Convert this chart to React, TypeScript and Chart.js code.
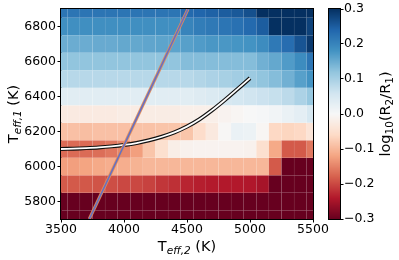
import React, { useEffect, useRef } from 'react';
import { Chart, registerables } from 'chart.js';
Chart.register(...registerables);

// Teff,2 grid (columns) and Teff,1 grid (rows)
const teff2 = [3500, 3600, 3700, 3800, 3900, 4000, 4100, 4200, 4300, 4400, 4500, 4600, 4700, 4800, 4900, 5000, 5100, 5200, 5300, 5400, 5500];
const teff1 = [5700, 5800, 5900, 6000, 6100, 6200, 6300, 6400, 6500, 6600, 6700, 6800, 6900];

// log10(R2/R1) per row (one array per Teff,1 value, columns follow teff2)
const ratio5700 = [-0.3, -0.3, -0.3, -0.3, -0.3, -0.3, -0.3, -0.3, -0.3, -0.3, -0.3, -0.3, -0.3, -0.3, -0.3, -0.3, -0.3, -0.3, -0.3, -0.3, -0.3];
const ratio5800 = [-0.3, -0.3, -0.3, -0.3, -0.3, -0.3, -0.3, -0.3, -0.3, -0.3, -0.3, -0.3, -0.3, -0.3, -0.3, -0.3, -0.3, -0.3, -0.3, -0.3, -0.3];
const ratio5900 = [-0.185, -0.185, -0.187, -0.19, -0.195, -0.2, -0.2, -0.205, -0.215, -0.22, -0.23, -0.235, -0.238, -0.24, -0.24, -0.242, -0.25, -0.3, -0.3, -0.3, -0.3];
const ratio6000 = [-0.125, -0.125, -0.12, -0.115, -0.11, -0.11, -0.105, -0.1, -0.1, -0.1, -0.1, -0.1, -0.1, -0.1, -0.1, -0.1, -0.1, -0.185, -0.3, -0.3, -0.3];
const ratio6100 = [-0.17, -0.17, -0.17, -0.168, -0.16, -0.145, -0.125, -0.085, -0.05, -0.02, -0.012, -0.01, -0.01, -0.01, -0.01, -0.012, -0.05, -0.115, -0.185, -0.185, -0.16];
const ratio6200 = [-0.09, -0.09, -0.092, -0.09, -0.09, -0.09, -0.088, -0.088, -0.086, -0.085, -0.085, -0.055, -0.03, -0.003, 0.02, 0.018, -0.005, -0.062, -0.066, -0.062, -0.04];
const ratio6300 = [-0.027, -0.027, -0.027, -0.027, -0.027, -0.024, -0.024, -0.024, -0.024, -0.024, -0.018, -0.018, -0.018, -0.01, -0.005, 0, 0.003, 0.01, 0.02, 0.03, 0.05];
const ratio6400 = [0.035, 0.035, 0.035, 0.035, 0.035, 0.035, 0.035, 0.035, 0.035, 0.035, 0.035, 0.04, 0.045, 0.05, 0.055, 0.06, 0.065, 0.07, 0.08, 0.095, 0.115];
const ratio6500 = [0.085, 0.085, 0.085, 0.085, 0.085, 0.085, 0.085, 0.085, 0.085, 0.085, 0.085, 0.09, 0.095, 0.1, 0.105, 0.11, 0.12, 0.13, 0.145, 0.165, 0.18];
const ratio6600 = [0.12, 0.12, 0.12, 0.12, 0.12, 0.12, 0.12, 0.12, 0.12, 0.12, 0.13, 0.13, 0.13, 0.13, 0.13, 0.13, 0.145, 0.155, 0.17, 0.19, 0.22];
const ratio6700 = [0.15, 0.15, 0.15, 0.152, 0.152, 0.155, 0.155, 0.158, 0.16, 0.16, 0.165, 0.17, 0.175, 0.175, 0.178, 0.18, 0.19, 0.215, 0.23, 0.26, 0.29];
const ratio6800 = [0.185, 0.185, 0.185, 0.185, 0.185, 0.185, 0.185, 0.185, 0.185, 0.185, 0.2, 0.21, 0.215, 0.22, 0.225, 0.235, 0.25, 0.3, 0.3, 0.3, 0.28];
const ratio6900 = [0.22, 0.22, 0.22, 0.22, 0.22, 0.22, 0.22, 0.22, 0.22, 0.22, 0.235, 0.24, 0.245, 0.25, 0.255, 0.265, 0.3, 0.3, 0.3, 0.3, 0.3];
const ratioRows = [ratio5700, ratio5800, ratio5900, ratio6000, ratio6100, ratio6200, ratio6300, ratio6400, ratio6500, ratio6600, ratio6700, ratio6800, ratio6900];

// Straight relation line
const lineTeff2 = [3725, 4508];
const lineTeff1 = [5700, 6900];

// Curved track
const curveTeff2 = [3500, 3600, 3700, 3800, 3900, 4000, 4100, 4200, 4300, 4400, 4500, 4600, 4700, 4800, 4900, 5000];
const curveTeff1 = [6100, 6102, 6105, 6109, 6115, 6123, 6134, 6150, 6170, 6195, 6228, 6270, 6322, 6380, 6442, 6505];

const xTicks = [3500, 4000, 4500, 5000, 5500];
const yTicks = [5800, 6000, 6200, 6400, 6600, 6800];
const cbTicks = [-0.3, -0.2, -0.1, 0.0, 0.1, 0.2, 0.3];
const CMIN = -0.3;
const CMAX = 0.3;

const RDBU = [
  [103, 0, 31], [178, 24, 43], [214, 96, 77], [244, 165, 130], [253, 219, 199],
  [247, 247, 247], [209, 229, 240], [146, 197, 222], [67, 147, 195], [33, 102, 172], [5, 48, 97],
];
function rdbu(v: number): string {
  let t = (v - CMIN) / (CMAX - CMIN);
  t = Math.max(0, Math.min(1, t));
  const s = t * 10;
  const i = Math.min(9, Math.floor(s));
  const f = s - i;
  const a = RDBU[i], b = RDBU[i + 1];
  const c = [0, 1, 2].map(k => Math.round(a[k] + (b[k] - a[k]) * f));
  return `rgb(${c[0]},${c[1]},${c[2]})`;
}

const FONT = 'DejaVu Sans';
const TICK_SIZE = 12.5;
const TITLE_SIZE = 14.5;
const SUB_SIZE = 10.5;

type Part = { text: string; sub?: boolean; italic?: boolean };
function drawRich(ctx: CanvasRenderingContext2D, parts: Part[], cx: number, cy: number, rot: number) {
  ctx.save();
  ctx.translate(cx, cy);
  ctx.rotate(rot);
  ctx.fillStyle = '#000';
  ctx.textBaseline = 'alphabetic';
  ctx.textAlign = 'left';
  const fontOf = (p: Part) => `${p.italic ? 'italic ' : ''}${p.sub ? SUB_SIZE : TITLE_SIZE}px "${FONT}"`;
  let total = 0;
  const widths = parts.map(p => { ctx.font = fontOf(p); const w = ctx.measureText(p.text).width; total += w; return w; });
  let x = -total / 2;
  parts.forEach((p, i) => {
    ctx.font = fontOf(p);
    ctx.fillText(p.text, x, p.sub ? 3 : 0);
    x += widths[i];
  });
  ctx.restore();
}

const heatmapPlugin = {
  id: 'heatmap',
  beforeDatasetsDraw(chart: any) {
    const { ctx, chartArea, scales } = chart;
    const xs = scales.x, ys = scales.y;
    const hx = (teff2[1] - teff2[0]) / 2;
    const hy = (teff1[1] - teff1[0]) / 2;
    ctx.save();
    ctx.beginPath();
    ctx.rect(chartArea.left, chartArea.top, chartArea.right - chartArea.left, chartArea.bottom - chartArea.top);
    ctx.clip();
    ratioRows.forEach((row, i) => {
      row.forEach((v, j) => {
        const x0 = xs.getPixelForValue(teff2[j] - hx);
        const x1 = xs.getPixelForValue(teff2[j] + hx);
        const y0 = ys.getPixelForValue(teff1[i] + hy);
        const y1 = ys.getPixelForValue(teff1[i] - hy);
        ctx.fillStyle = rdbu(v);
        ctx.fillRect(x0, y0, x1 - x0, y1 - y0);
        ctx.strokeStyle = 'rgba(255,255,255,0.05)';
        ctx.lineWidth = 0.6;
        ctx.strokeRect(x0, y0, x1 - x0, y1 - y0);
      });
    });
    ctx.restore();
  },
  afterDraw(chart: any) {
    const { ctx, chartArea } = chart;
    ctx.save();
    ctx.strokeStyle = '#000';
    ctx.lineWidth = 1;
    ctx.strokeRect(Math.round(chartArea.left) - 0.5, Math.round(chartArea.top) - 0.5,
      Math.round(chartArea.right - chartArea.left) + 1, Math.round(chartArea.bottom - chartArea.top) + 1);
    ctx.restore();
    const cx = (chartArea.left + chartArea.right) / 2;
    const cy = (chartArea.top + chartArea.bottom) / 2;
    drawRich(ctx, [{ text: 'T' }, { text: 'eff,2', sub: true, italic: true }, { text: ' (K)' }], cx, 251, 0);
    drawRich(ctx, [{ text: 'T' }, { text: 'eff,1', sub: true, italic: true }, { text: ' (K)' }], 18, cy, -Math.PI / 2);
  },
};

const colorbarPlugin = {
  id: 'colorbar',
  beforeDatasetsDraw(chart: any) {
    const { ctx, chartArea, scales } = chart;
    const ys = scales.y;
    ctx.save();
    for (let p = Math.floor(chartArea.top); p < Math.ceil(chartArea.bottom); p++) {
      ctx.fillStyle = rdbu(ys.getValueForPixel(p + 0.5));
      ctx.fillRect(chartArea.left, p, chartArea.right - chartArea.left, 1);
    }
    ctx.restore();
  },
  afterDraw(chart: any) {
    const { ctx, chartArea } = chart;
    ctx.save();
    ctx.strokeStyle = '#000';
    ctx.lineWidth = 1;
    ctx.strokeRect(Math.round(chartArea.left) - 0.5, Math.round(chartArea.top) - 0.5,
      Math.round(chartArea.right - chartArea.left) + 1, Math.round(chartArea.bottom - chartArea.top) + 1);
    ctx.restore();
    const cy = (chartArea.top + chartArea.bottom) / 2;
    drawRich(ctx, [
      { text: 'log' }, { text: '10', sub: true }, { text: '(R' }, { text: '2', sub: true },
      { text: '/R' }, { text: '1', sub: true }, { text: ')' },
    ], 390, cy, -Math.PI / 2);
  },
};

const tickFont = { family: FONT, size: TICK_SIZE };

export default function App() {
  const mainRef = useRef<HTMLCanvasElement>(null);
  const cbRef = useRef<HTMLCanvasElement>(null);

  useEffect(() => {
    document.body.style.margin = '0';
    const main = new Chart(mainRef.current!, {
      type: 'scatter',
      data: {
        datasets: [
          {
            data: lineTeff2.map((v, i) => ({ x: v, y: lineTeff1[i] })),
            showLine: true, borderColor: '#6470c4', borderWidth: 1.6, pointRadius: 0, order: 0,
          },
          {
            data: lineTeff2.map((v, i) => ({ x: v, y: lineTeff1[i] })),
            showLine: true, borderColor: 'rgba(226,140,90,0.95)', borderWidth: 3.2, pointRadius: 0, order: 1,
          },
          {
            data: curveTeff2.map((v, i) => ({ x: v, y: curveTeff1[i] })),
            showLine: true, borderColor: '#ffffff', borderWidth: 1.8, pointRadius: 0, tension: 0.3, order: 2,
          },
          {
            data: curveTeff2.map((v, i) => ({ x: v, y: curveTeff1[i] })),
            showLine: true, borderColor: '#111111', borderWidth: 4, pointRadius: 0, tension: 0.3, order: 3,
          },
        ],
      },
      options: {
        responsive: false,
        animation: false,
        events: [],
        layout: { padding: { left: 0, right: 86, top: 9, bottom: 0 } },
        plugins: { legend: { display: false }, tooltip: { enabled: false } },
        scales: {
          x: {
            type: 'linear', min: 3500, max: 5500,
            afterBuildTicks: (s: any) => { s.ticks = xTicks.map(v => ({ value: v })); },
            afterFit: (s: any) => { s.height = 41; },
            ticks: { font: tickFont, color: '#000', maxRotation: 0, autoSkip: false, padding: 0, callback: (v: any) => String(v) },
            grid: { drawOnChartArea: false, tickLength: 3.5, tickColor: '#000' },
            border: { display: true, color: '#000' },
          },
          y: {
            type: 'linear', min: 5700, max: 6900,
            afterBuildTicks: (s: any) => { s.ticks = yTicks.map(v => ({ value: v })); },
            afterFit: (s: any) => { s.width = 61; },
            ticks: { font: tickFont, color: '#000', autoSkip: false, padding: 1.5, callback: (v: any) => String(v) },
            grid: { drawOnChartArea: false, tickLength: 3.5, tickColor: '#000' },
            border: { display: true, color: '#000' },
          },
        },
      },
      plugins: [heatmapPlugin],
    } as any);

    const cb = new Chart(cbRef.current!, {
      type: 'scatter',
      data: { datasets: [{ data: [] }] },
      options: {
        responsive: false,
        animation: false,
        events: [],
        layout: { padding: { left: 329, right: 0, top: 9, bottom: 41 } },
        plugins: { legend: { display: false }, tooltip: { enabled: false } },
        scales: {
          x: { type: 'linear', display: false, min: 0, max: 1 },
          y: {
            type: 'linear', position: 'right', min: CMIN, max: CMAX,
            afterBuildTicks: (s: any) => { s.ticks = cbTicks.map(v => ({ value: v })); },
            afterFit: (s: any) => { s.width = 59; },
            ticks: {
              font: tickFont, color: '#000', autoSkip: false, padding: 0.5,
              callback: (v: any) => (v < -1e-9 ? '\u2212' : '') + Math.abs(v).toFixed(1),
            },
            grid: { drawOnChartArea: false, tickLength: 3.5, tickColor: '#000' },
            border: { display: true, color: '#000' },
          },
        },
      },
      plugins: [colorbarPlugin],
    } as any);

    return () => { main.destroy(); cb.destroy(); };
  }, []);

  return (
    <div style={{ position: 'relative', width: 399, height: 260 }}>
      <canvas ref={mainRef} width={399} height={260} style={{ position: 'absolute', left: 0, top: 0 }} />
      <canvas ref={cbRef} width={399} height={260} style={{ position: 'absolute', left: 0, top: 0 }} />
    </div>
  );
}
